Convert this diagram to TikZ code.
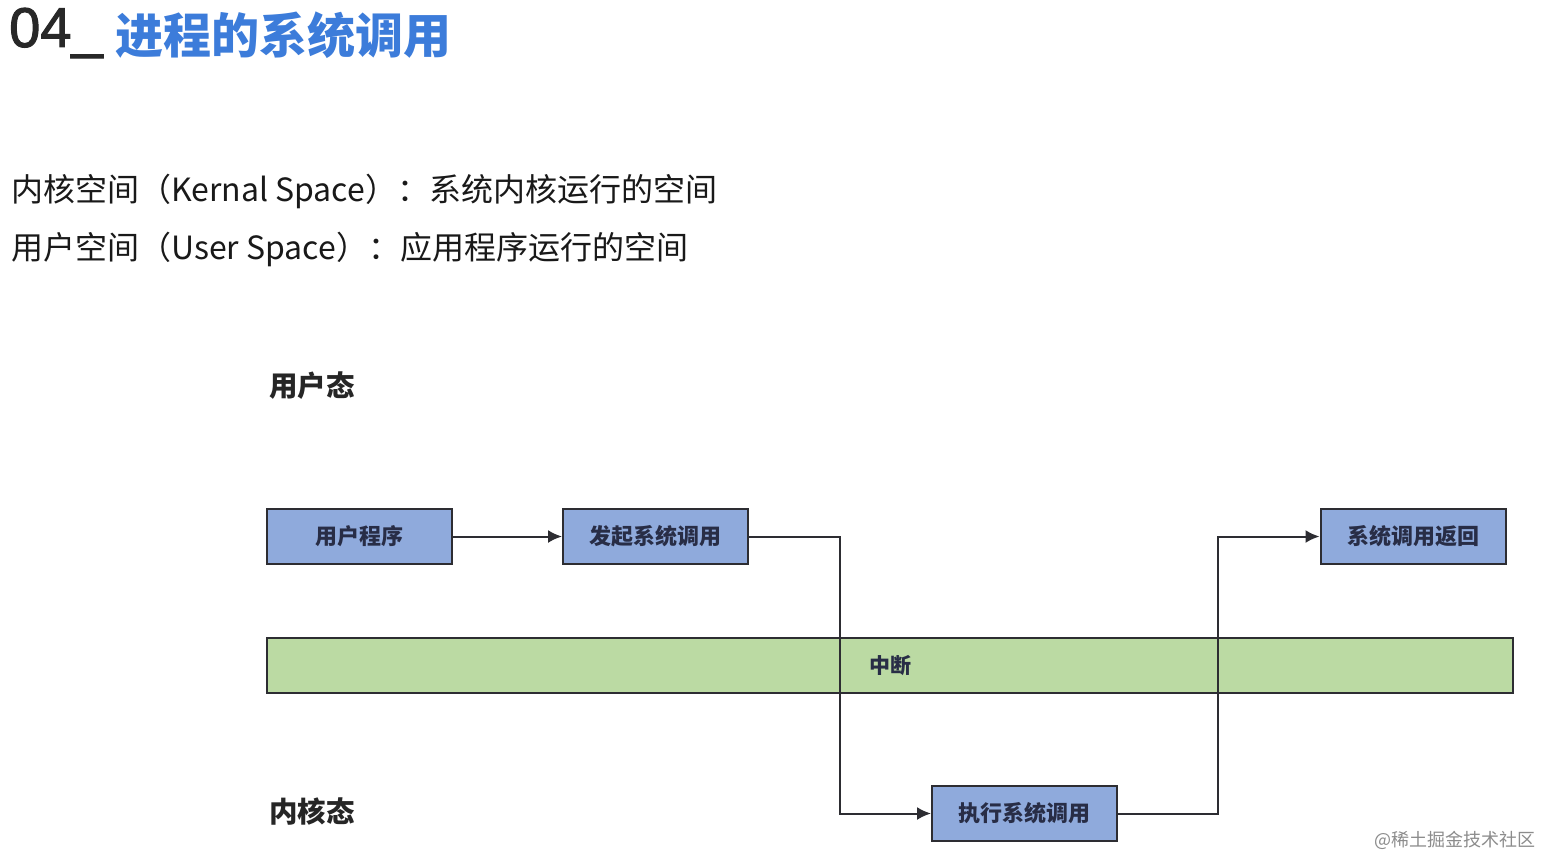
\documentclass[tikz,border=0pt]{standalone}
\usepackage{fontspec}
\setmainfont{Noto Sans CJK SC}
\newfontfamily\latinsans[FakeBold=1.8]{Liberation Sans}
\usetikzlibrary{arrows.meta}
\definecolor{titleblue}{RGB}{60,124,218}
\definecolor{titlegray}{RGB}{40,40,40}
\definecolor{boxblue}{RGB}{143,170,220}
\definecolor{bargreen}{RGB}{187,218,163}
\definecolor{edgegray}{RGB}{45,45,50}
\definecolor{boxtext}{RGB}{40,45,70}
\tikzset{
  procbox/.style={draw=edgegray, line width=2pt, fill=boxblue, minimum width=185pt, minimum height=55pt, inner sep=0pt, font=\fontsize{22}{26}\selectfont\bfseries, text=boxtext},
  barbox/.style={draw=edgegray, line width=1.8pt, fill=bargreen, minimum width=1246pt, minimum height=55pt, inner sep=0pt, font=\fontsize{21}{25}\selectfont\bfseries, text=boxtext},
  flow/.style={draw=edgegray, line width=2pt, -{Latex[length=14pt,width=13pt]}},
  bodytext/.style={anchor=west, inner sep=0pt, font=\fontsize{32}{38}\selectfont, text=black!90},
  statetext/.style={anchor=west, inner sep=0pt, font=\fontsize{28.5}{34}\selectfont\bfseries, text=black!85}
}
\begin{document}
\begin{tikzpicture}[x=1pt,y=-1pt]
\useasboundingbox[fill=white] (0,0) rectangle (1541,857);
% title
\node[anchor=west, inner sep=0pt, font=\latinsans\fontsize{56}{66}\selectfont, text=titlegray] (t1) at (9,33) {04\_};
\node[anchor=west, inner sep=0pt, font=\fontsize{48}{58}\selectfont\bfseries, text=titleblue] (t2) at (115,35) {进程的系统调用};
% definitions
\node[bodytext] (l1) at (11,191) {内核空间（Kernal Space）：系统内核运行的空间};
\node[bodytext] (l2) at (11,249) {用户空间（User Space）：应用程序运行的空间};
% state labels
\node[statetext] (us) at (269,386) {用户态};
\node[statetext] (ks) at (269,811) {内核态};
% interrupt bar
\node[barbox] (irq) at (890,665.5) {中断};
% boxes
\node[procbox] (up) at (359.5,536.5) {用户程序};
\node[procbox] (sc) at (655.5,536.5) {发起系统调用};
\node[procbox] (ex) at (1024.5,813.5) {执行系统调用};
\node[procbox] (rt) at (1413,536.5) {系统调用返回};
\coordinate (c1) at (840,536.5);
\coordinate (c2) at (840,813.5);
\coordinate (c3) at (1218,813.5);
\coordinate (c4) at (1218,536.5);
% connectors
\draw[flow] (up.east) -- (sc.west);
\draw[flow] (sc.east) -- (c1) -- (c2) -- (ex.west);
\draw[flow] (ex.east) -- (c3) -- (c4) -- (rt.west);
% watermark
\node[anchor=east, inner sep=0pt, font=\fontsize{18}{22}\selectfont, text=black!45] (wm) at (1536,840) {@稀土掘金技术社区};
\end{tikzpicture}
\end{document}
